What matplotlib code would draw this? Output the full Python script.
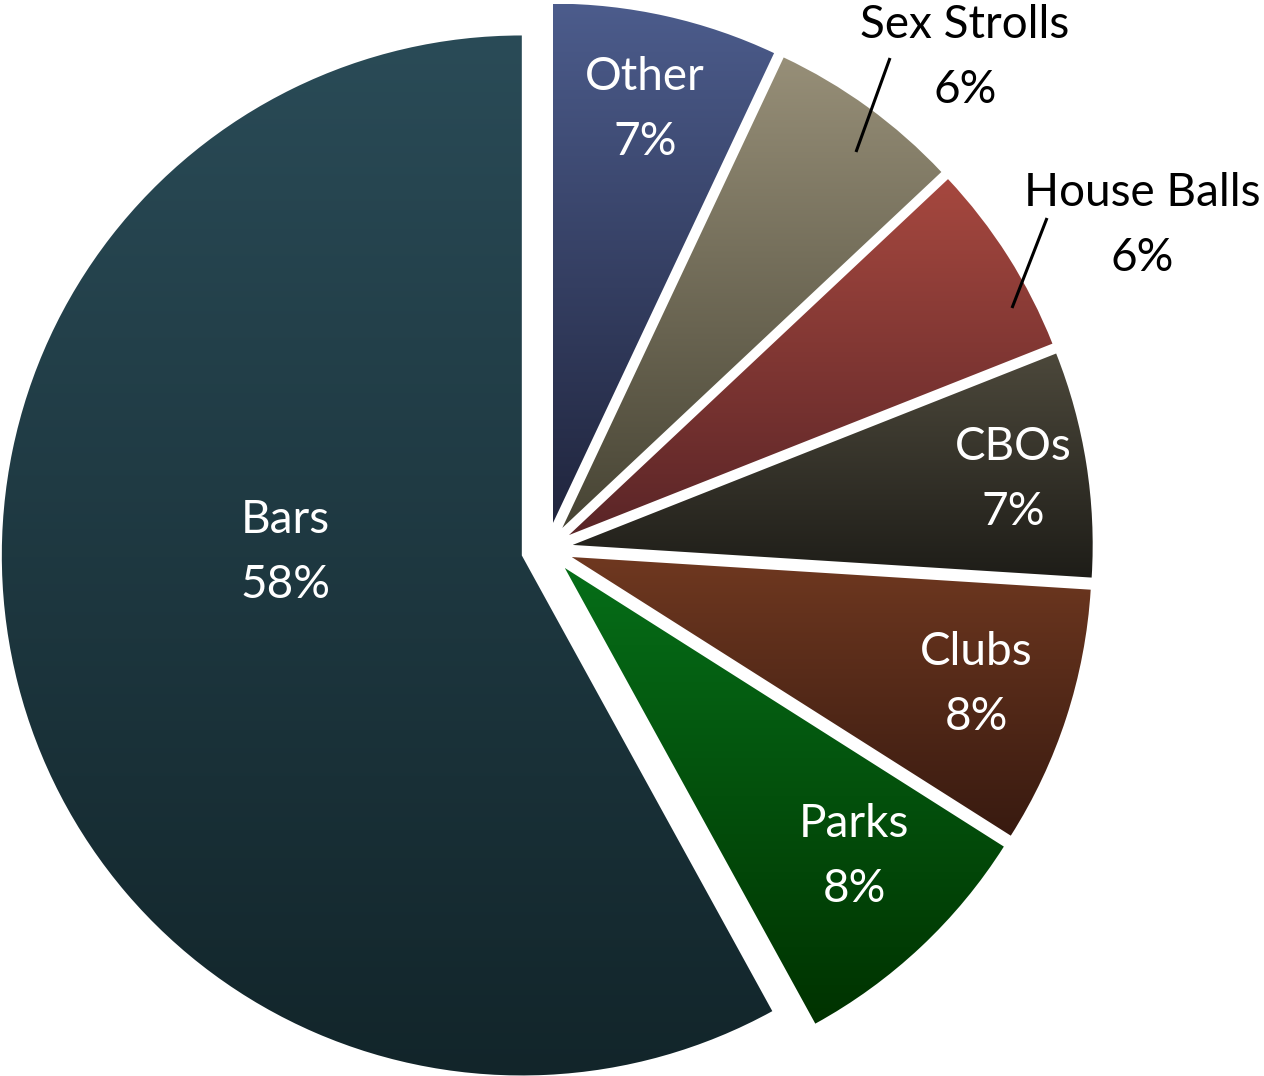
import numpy as np
import matplotlib.pyplot as plt
from matplotlib.colors import to_rgb

# venue shares, clockwise from 12 o'clock
venues = ["Other", "Sex Strolls", "House Balls", "CBOs", "Clubs", "Parks", "Bars"]
shares = [7, 6, 6, 7, 8, 8, 58]

# vertical gradient for each slice: top colour -> bottom colour
top_colors = ["#4C5C8C", "#978F78", "#A6483F", "#4C483B", "#6F3820", "#066E18", "#2A4B57"]
bottom_colors = ["#20253D", "#474434", "#5A2527", "#1E1D18", "#381A10", "#003200", "#12252A"]

# label centres (x, y) and text colour
label_pos = [(645, 968), (965, 1020), (1142, 852), (1013, 598), (976, 393), (854, 221), (285, 525)]
label_color = ["white", "black", "black", "white", "white", "white", "white"]

# leader lines for the two labels that sit outside the pie
leaders = {1: ((890, 1018), (856, 924)), 2: ((1047, 858), (1012, 768))}

W, H = 1264, 1076
R = 520
fig = plt.figure(figsize=(W / 100, H / 100), dpi=100)
ax = fig.add_axes([0, 0, 1, 1])

# explode is in data units here, so every slice is pushed out by 5% of the radius
wedges, _ = ax.pie(shares, startangle=90, counterclock=False,
                   explode=[0.05 * R] * len(shares), radius=R, center=(547, 527),
                   wedgeprops=dict(edgecolor="none", linewidth=0))
ax.set_xlim(0, W)
ax.set_ylim(0, H)
ax.set_aspect("equal")
ax.axis("off")

for w, c_top, c_bot in zip(wedges, top_colors, bottom_colors):
    verts = w.get_path().vertices
    x0, x1 = verts[:, 0].min(), verts[:, 0].max()
    y0, y1 = verts[:, 1].min(), verts[:, 1].max()
    t = np.linspace(0, 1, 256)[:, None, None]
    grad = (1 - t) * np.array(to_rgb(c_bot)) + t * np.array(to_rgb(c_top))
    im = ax.imshow(grad, extent=(x0, x1, y0, y1), origin="lower",
                   aspect="auto", interpolation="bilinear", zorder=1)
    im.set_clip_path(w)
    w.set_facecolor("none")

for i, (name, pct) in enumerate(zip(venues, shares)):
    x, y = label_pos[i]
    ax.text(x, y + 18, name, ha="center", va="baseline", fontsize=33,
            family="Lato", color=label_color[i], zorder=3)
    ax.text(x, y - 47, f"{pct}%", ha="center", va="baseline", fontsize=33,
            family="Lato", color=label_color[i], zorder=3)

for (p, q) in leaders.values():
    ax.plot([p[0], q[0]], [p[1], q[1]], color="black", lw=2.2, zorder=3,
            solid_capstyle="butt")

fig.savefig("out.png", dpi=100)
